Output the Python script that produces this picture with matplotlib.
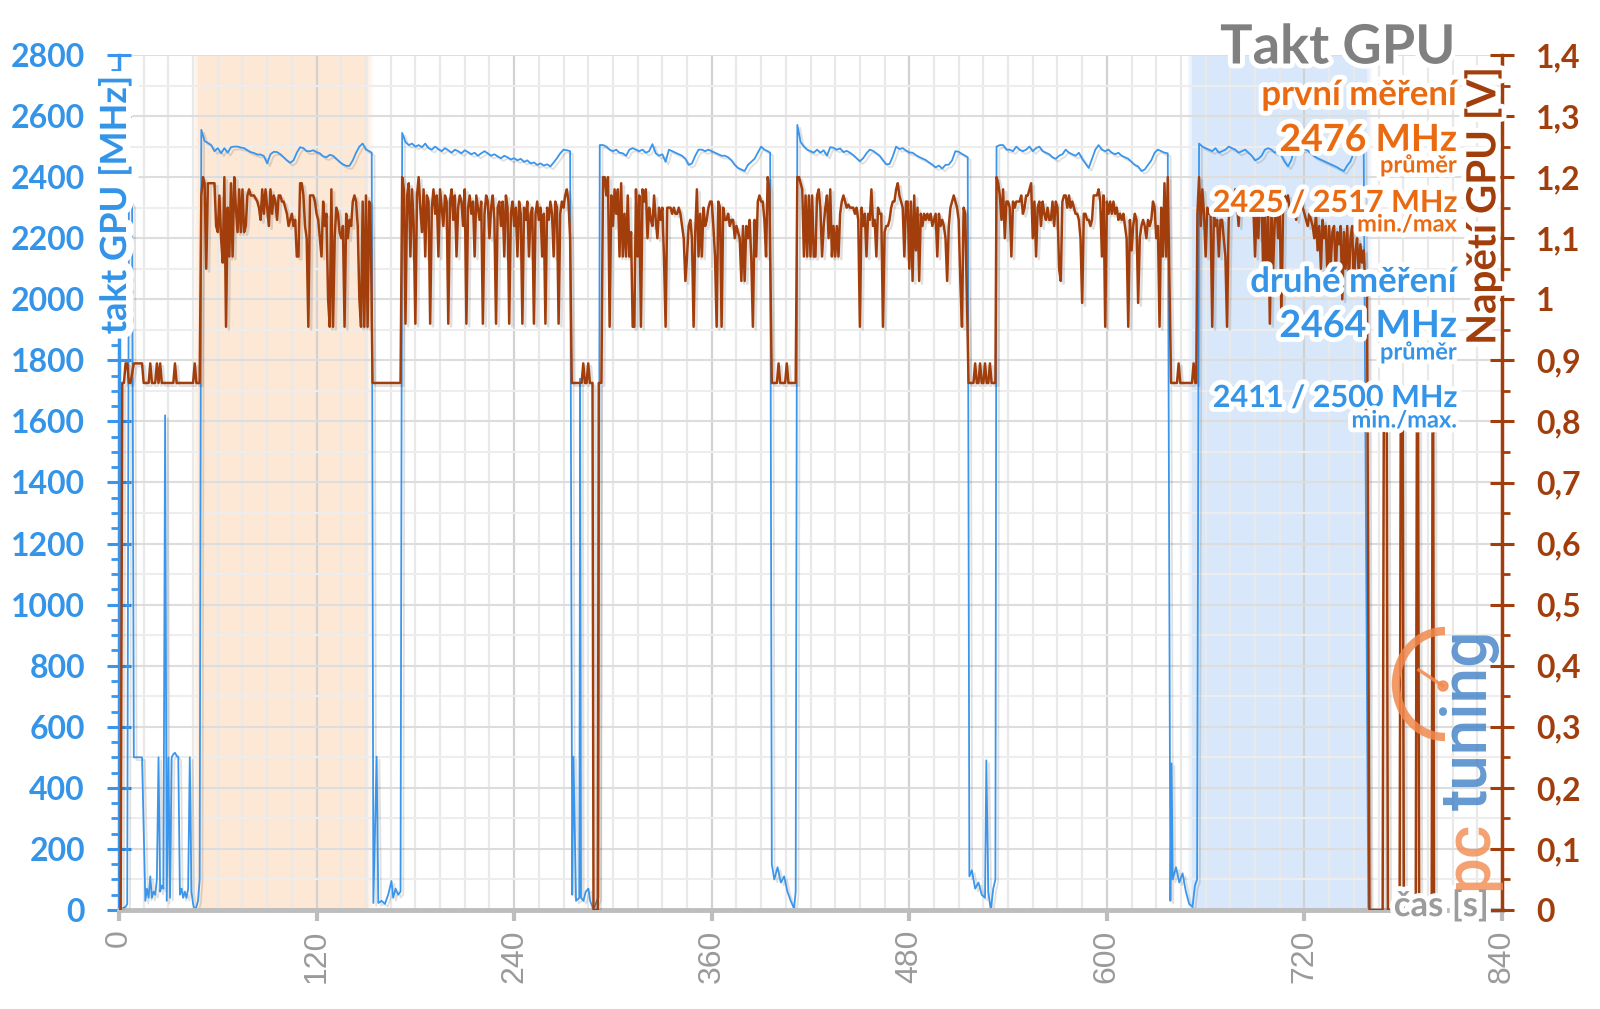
import numpy as np
import matplotlib
matplotlib.use("Agg")
import matplotlib.pyplot as plt
import matplotlib.patheffects as pe
from matplotlib.patches import Arc, Circle

plt.rcParams['font.family'] = ['Lato', 'DejaVu Sans']

BLUE = '#3A96EC'
BLUE_TXT = '#3494E8'
BROWN = '#A23E0C'
ORANGE = '#EA6A12'
GRAY = '#808080'

# ---- GPU clock [MHz] ----
clk_idle0_t = [0, 4, 5, 6, 8, 9, 14, 16, 17, 18, 19, 20, 21, 22, 23, 24, 25, 26, 27, 28,
               29, 30, 31, 32, 33, 34, 35, 36, 37, 38, 39, 40, 41, 42, 43, 44, 45, 46, 47, 48, 49]
clk_idle0 = [0, 10, 20, 2330, 2310, 500, 500, 30, 70, 40, 110, 40, 60, 50, 100, 500, 60, 80, 70, 1620,
             30, 500, 40, 500, 510, 515, 505, 500, 50, 70, 40, 60, 40, 70, 500, 60, 20, 0, 10, 30, 100]
clk_run1 = [2555, 2518, 2512, 2505, 2485, 2495, 2478, 2495, 2480, 2498,
            2500, 2500, 2497, 2495, 2488, 2482, 2479, 2474, 2474, 2469,
            2445, 2475, 2483, 2482, 2475, 2465, 2455, 2447, 2455, 2480,
            2498, 2495, 2485, 2485, 2488, 2482, 2478, 2468, 2465, 2473,
            2470, 2460, 2450, 2442, 2437, 2437, 2455, 2480, 2500, 2510,
            2490, 2485]
clk_idle2_t = [153.5, 154.5, 156.5, 157.5, 159.5, 161.5, 163.5, 165.5, 166.5, 168, 169.5, 171]
clk_idle2 = [2480, 23, 502, 23, 30, 20, 50, 95, 40, 70, 50, 60]
clk_run2 = [2545, 2515, 2505, 2510, 2500, 2505, 2498, 2510, 2495, 2490,
            2500, 2492, 2485, 2495, 2488, 2480, 2490, 2485, 2478, 2488,
            2482, 2475, 2480, 2470, 2478, 2485, 2478, 2470, 2475, 2468,
            2462, 2470, 2465, 2458, 2462, 2455, 2460, 2450, 2455, 2445,
            2448, 2440, 2445, 2438, 2442, 2435, 2448, 2462, 2478, 2490,
            2488, 2485]
clk_idle3_t = [275.3, 276, 277.6, 279.6, 280.1, 280.6, 282.1, 283.5, 285.1, 286.2, 288.2, 290.2, 291.2]
clk_idle3 = [50, 502, 30, 40, 1740, 40, 30, 60, 70, 30, 0, 30, 40]
clk_run3 = [2505, 2505, 2500, 2490, 2485, 2490, 2480, 2478, 2470, 2490,
            2495, 2490, 2485, 2490, 2480, 2485, 2508, 2478, 2470, 2475,
            2450, 2490, 2485, 2480, 2475, 2470, 2460, 2440, 2445, 2470,
            2490, 2490, 2485, 2490, 2485, 2480, 2475, 2470, 2470, 2465,
            2455, 2440, 2430, 2425, 2420, 2440, 2450, 2460, 2480, 2500,
            2490, 2485]
clk_idle4_t = [395.5, 396.5, 398, 400, 402, 404, 406, 408, 410, 411]
clk_idle4 = [2480, 150, 100, 140, 90, 110, 60, 30, 5, 60]
clk_run4 = [2571, 2515, 2500, 2490, 2485, 2480, 2490, 2480, 2488, 2470,
            2498, 2496, 2490, 2494, 2482, 2486, 2480, 2472, 2462, 2452,
            2462, 2478, 2490, 2486, 2478, 2470, 2455, 2442, 2443, 2468,
            2500, 2492, 2495, 2487, 2481, 2480, 2472, 2466, 2461, 2456,
            2448, 2441, 2432, 2438, 2428, 2440, 2441, 2455, 2485, 2483,
            2476, 2470]
clk_idle5_t = [515.5, 516.5, 518, 520, 522, 524, 526, 526.8, 528, 529.5, 531, 532.3]
clk_idle5 = [2465, 110, 130, 70, 90, 50, 40, 490, 60, 0, 70, 100]
clk_run5 = [2500, 2505, 2505, 2490, 2490, 2485, 2500, 2490, 2485, 2490,
            2500, 2485, 2495, 2500, 2485, 2480, 2475, 2465, 2460, 2470,
            2475, 2490, 2480, 2475, 2470, 2480, 2460, 2445, 2430, 2460,
            2490, 2505, 2490, 2485, 2490, 2480, 2475, 2480, 2470, 2465,
            2460, 2450, 2440, 2435, 2420, 2425, 2440, 2455, 2480, 2490,
            2485, 2480]
clk_idle6_t = [637, 638.6, 639.3, 640, 642, 644, 646, 648, 650, 652, 653.5, 654.8]
clk_idle6 = [2478, 30, 480, 100, 140, 90, 120, 60, 20, 10, 80, 100]
clk_run6 = [2510, 2500, 2495, 2490, 2485, 2495, 2480, 2485, 2490, 2500,
            2495, 2490, 2480, 2485, 2490, 2480, 2470, 2455, 2460, 2470,
            2490, 2495, 2490, 2480, 2485, 2470, 2450, 2435, 2455, 2495,
            2490, 2488, 2492, 2487, 2478, 2468, 2462, 2457, 2452, 2447,
            2442, 2437, 2432, 2425, 2420, 2438, 2452, 2480, 2500, 2495]
clk_tail_t = [756, 758.8, 800]
clk_tail = [2490, 0, 0]

# ---- GPU voltage [V] ----
v_idle0_t = [0, 1, 2, 3, 4, 5, 6, 7, 9, 14, 15, 18, 19, 20, 22, 23, 24, 25, 26, 33, 34, 35, 45, 46, 47, 49]
v_idle0 = [0, 0, 0.863, 0.863, 0.895, 0.895, 0.863, 0.863, 0.895, 0.895,
           0.863, 0.863, 0.895, 0.863, 0.863, 0.895, 0.863, 0.895, 0.863, 0.863,
           0.895, 0.863, 0.863, 0.895, 0.863, 0.863]
v_run1 = [1.17, 1.20, 1.19, 1.05, 1.19, 1.19, 1.19, 1.19, 1.19, 1.12,
          1.11, 1.17, 1.10, 1.06, 1.20, 0.955, 1.15, 1.07, 1.19, 1.07,
          1.20, 1.15, 1.11, 1.18, 1.11, 1.18, 1.11, 1.12, 1.17, 1.18,
          1.17, 1.17, 1.17, 1.165, 1.16, 1.15, 1.13, 1.18, 1.14, 1.18,
          1.15, 1.12, 1.18, 1.14, 1.17, 1.16, 1.13, 1.17, 1.17, 1.16,
          1.16, 1.15, 1.14, 1.12, 1.13, 1.14, 1.12, 1.13, 1.07, 1.07,
          1.19, 1.19, 1.17, 1.12, 1.10, 0.955, 1.17, 1.17, 1.17, 1.16,
          1.14, 1.13, 1.10, 1.07, 1.16, 1.12, 1.14, 1.00, 0.955, 1.18,
          0.955, 1.10, 1.15, 1.14, 1.11, 1.10, 1.12, 0.955, 1.14, 1.10,
          1.13, 1.12, 1.16, 1.17, 1.16, 1.12, 1.00, 0.955, 1.16, 0.955,
          1.17, 0.955, 1.16, 1.10]
v_idle2_t = [154, 171]
v_idle2 = [0.863, 0.863]
v_run2 = [1.20, 1.18, 0.96, 1.17, 1.19, 1.07, 1.18, 1.12, 0.96, 1.17,
          1.20, 1.15, 1.11, 1.18, 1.07, 1.17, 1.16, 0.96, 1.15, 1.18,
          1.14, 1.17, 1.07, 1.18, 1.15, 1.12, 1.17, 1.16, 0.96, 1.16,
          1.18, 1.13, 1.17, 1.07, 1.15, 1.17, 1.16, 1.12, 1.18, 0.96,
          1.15, 1.17, 1.14, 1.16, 1.07, 1.17, 1.15, 1.13, 1.16, 0.96,
          1.14, 1.17, 1.16, 1.10, 1.15, 1.17, 1.13, 0.96, 1.15, 1.16,
          1.12, 1.16, 1.07, 1.17, 1.15, 0.96, 1.14, 1.16, 1.12, 1.15,
          1.07, 1.16, 1.14, 0.96, 1.15, 1.13, 1.16, 1.07, 1.14, 1.15,
          0.96, 1.14, 1.16, 1.13, 1.15, 1.07, 1.14, 0.96, 1.15, 1.13,
          1.16, 1.14, 1.07, 1.16, 1.15, 0.96, 1.14, 1.16, 1.15, 1.17,
          1.18, 1.16, 1.10]
v_idle3_t = [275, 281, 282, 283, 284, 285, 286, 287.6, 288.2, 290.8, 291.4, 293]
v_idle3 = [0.863, 0.863, 0.895, 0.863, 0.863, 0.895, 0.863, 0.863, 0, 0, 0.863, 0.863]
v_run3 = [1.20, 1.20, 1.17, 1.20, 0.955, 1.17, 1.12, 1.18, 1.14, 1.18,
          1.07, 1.19, 1.07, 1.14, 1.07, 1.17, 1.07, 1.11, 0.955, 0.955,
          1.18, 1.07, 1.17, 0.955, 1.18, 1.16, 1.18, 1.10, 1.15, 1.13,
          1.12, 1.17, 1.13, 1.10, 1.15, 1.13, 1.15, 1.07, 0.955, 1.15,
          1.15, 1.15, 1.14, 1.15, 1.14, 1.14, 1.15, 1.14, 1.12, 1.10,
          1.03, 1.07, 1.12, 1.13, 1.10, 0.955, 1.11, 1.18, 1.07, 1.14,
          1.07, 1.15, 1.12, 1.13, 1.15, 1.16, 1.16, 1.12, 1.07, 0.955,
          1.16, 1.15, 0.955, 1.15, 1.13, 1.13, 1.14, 1.12, 1.13, 1.13,
          1.10, 1.12, 1.11, 1.10, 1.03, 1.12, 1.03, 1.12, 1.10, 1.13,
          1.07, 0.955, 1.13, 1.07, 1.16, 1.17, 1.16, 1.16, 1.13, 1.07,
          1.20, 1.18]
v_idle4_t = [396.5, 399.6, 400.6, 401.6, 404.6, 405.6, 406.6, 411]
v_idle4 = [0.863, 0.863, 0.895, 0.863, 0.863, 0.895, 0.863, 0.863]
v_run4 = [1.20, 1.20, 1.19, 1.18, 1.07, 1.17, 1.07, 1.17, 1.07, 1.17,
          1.07, 1.07, 1.17, 1.18, 1.15, 1.07, 1.12, 1.15, 1.17, 1.10,
          1.18, 1.07, 1.12, 1.07, 1.12, 1.07, 1.14, 1.16, 1.17, 1.16,
          1.15, 1.155, 1.15, 1.15, 1.15, 1.14, 1.15, 1.13, 0.955, 1.15,
          1.12, 1.14, 1.07, 1.14, 1.13, 1.18, 1.12, 1.13, 1.07, 1.15,
          1.14, 1.14, 0.955, 1.11, 1.12, 1.12, 1.13, 1.15, 1.16, 1.16,
          1.18, 1.19, 1.17, 1.16, 1.15, 1.07, 1.16, 1.16, 1.05, 1.16,
          1.03, 1.17, 1.08, 1.15, 1.03, 1.14, 1.12, 1.14, 1.13, 1.14,
          1.13, 1.14, 1.12, 1.13, 1.14, 1.07, 1.14, 1.12, 1.13, 1.12,
          1.10, 1.03, 1.12, 1.15, 1.16, 1.17, 1.16, 1.15, 1.13, 1.03,
          0.955, 1.15, 1.14]
v_idle5_t = [516, 519, 520, 521, 522, 523, 524, 525, 526, 527, 528, 529, 530, 532.3]
v_idle5 = [0.863, 0.863, 0.895, 0.863, 0.863, 0.895, 0.863, 0.863, 0.895, 0.863, 0.863, 0.895, 0.863, 0.863]
v_run5 = [1.20, 1.19, 1.17, 1.13, 1.18, 1.10, 1.16, 1.16, 1.15, 1.07,
          1.16, 1.15, 1.16, 1.16, 1.16, 1.17, 1.14, 1.15, 1.17, 1.17,
          1.18, 1.19, 1.10, 1.16, 1.07, 1.15, 1.16, 1.12, 1.16, 1.14,
          1.13, 1.15, 1.13, 1.13, 1.16, 1.12, 1.16, 1.15, 1.05, 1.03,
          1.16, 1.17, 1.17, 1.15, 1.17, 1.15, 1.16, 1.15, 1.14, 1.14,
          1.13, 1.10, 0.994, 1.14, 1.14, 1.13, 1.13, 1.12, 1.13, 1.17,
          1.17, 1.17, 1.18, 1.16, 1.07, 1.17, 0.955, 1.16, 1.14, 1.16,
          1.14, 1.16, 1.14, 1.15, 1.13, 1.14, 1.13, 1.14, 1.12, 1.10,
          0.955, 1.13, 1.08, 1.12, 1.14, 1.13, 0.994, 1.10, 1.12, 1.13,
          1.12, 1.10, 1.13, 1.12, 1.13, 1.16, 1.15, 1.10, 1.12, 0.955,
          1.15, 1.07, 1.19, 1.07, 1.20]
v_idle6_t = [639, 642.6, 643.6, 644.6, 651.7, 652.7, 653.7, 654.3]
v_idle6 = [0.863, 0.863, 0.895, 0.863, 0.863, 0.895, 0.863, 0.863]
v_run6 = [1.14, 1.20, 1.12, 1.18, 1.14, 1.07, 1.15, 1.14, 1.14, 0.955,
          1.14, 1.12, 1.13, 1.07, 1.13, 1.13, 1.10, 1.07, 0.955, 1.13,
          1.16, 1.17, 1.15, 1.18, 1.16, 1.12, 1.17, 1.16, 1.18, 1.15,
          1.17, 1.16, 1.14, 1.18, 1.15, 1.07, 1.15, 1.10, 1.17, 1.16,
          1.04, 1.16, 1.02, 1.14, 0.96, 1.15, 1.05, 1.13, 1.16, 1.10,
          1.15, 0.97, 1.14, 1.17, 1.16, 1.17, 1.15, 1.14, 1.16, 1.15,
          1.13, 1.16, 1.17, 1.16, 1.15, 1.14, 1.13, 1.12, 1.14, 1.13,
          1.12, 1.10, 1.14, 1.08, 1.12, 1.05, 1.13, 1.10, 1.12, 1.03,
          1.12, 1.06, 1.11, 1.12, 1.04, 1.11, 1.09, 1.12, 1.00, 1.11,
          1.05, 1.12, 1.03, 1.10, 1.12, 1.02, 1.08, 1.10, 1.04, 1.09,
          1.06, 1.08, 1.02]
v_tail_t = [758, 759.5, 767.5, 768.2, 770.0, 770.7, 777.8, 778.5, 779.7, 780.4,
            787.6, 788.3, 789.0, 789.7, 797.3, 797.8, 798.2, 798.7, 800]
v_tail = [1.02, 0, 0, 0.80, 0.80, 0, 0, 0.81, 0.81, 0, 0, 0.80, 0.80, 0, 0, 0.79, 0.79, 0, 0]

time_ticks = [0, 120, 240, 360, 480, 600, 720, 840]
volt_ticklabels = ['0', '0,1', '0,2', '0,3', '0,4', '0,5', '0,6', '0,7',
                   '0,8', '0,9', '1', '1,1', '1,2', '1,3', '1,4']

span_first = (48, 151)
span_second = (652, 758)


def run(start, step, vals):
    return list(start + step * np.arange(len(vals))), list(vals)


def join(parts):
    t = np.concatenate([np.asarray(p[0], float) for p in parts])
    v = np.concatenate([np.asarray(p[1], float) for p in parts])
    return t, v


clock_t, clock_v = join([
    (clk_idle0_t, clk_idle0), run(50, 2, clk_run1), (clk_idle2_t, clk_idle2),
    run(172, 2, clk_run2), (clk_idle3_t, clk_idle3), run(292, 2, clk_run3),
    (clk_idle4_t, clk_idle4), run(412, 2, clk_run4), (clk_idle5_t, clk_idle5),
    run(533, 2, clk_run5), (clk_idle6_t, clk_idle6), run(656, 2, clk_run6),
    (clk_tail_t, clk_tail)])

volt_t, volt_v = join([
    (v_idle0_t, v_idle0), run(50, 1, v_run1), (v_idle2_t, v_idle2),
    run(172, 1, v_run2), (v_idle3_t, v_idle3), run(294, 1, v_run3),
    (v_idle4_t, v_idle4), run(412, 1, v_run4), (v_idle5_t, v_idle5),
    run(533, 1, v_run5), (v_idle6_t, v_idle6), run(655, 1, v_run6),
    (v_tail_t, v_tail)])

fig = plt.figure(figsize=(16, 10.09), dpi=100)
fig.patch.set_facecolor('white')
ax = fig.add_axes([119 / 1600, 1 - 910 / 1009, (1502 - 119) / 1600, (910 - 55) / 1009])
ax2 = ax.twinx()

# soft shaded ranges
def soft_span(a, b, color):
    ax.axvspan(a, b, color=color, lw=0, zorder=0.6)
    for d in (1, 2, 3):
        ax.axvspan(a - d, b + d, color=color, alpha=0.25, lw=0, zorder=0.5)

soft_span(*span_first, '#FDE8D5')
soft_span(*span_second, '#D8E8FA')

# grid
for x in np.arange(0, 841, 15):
    ax.axvline(x, color='#D2D2D2' if x % 120 == 0 else '#E9E9E9', lw=1.6, zorder=1.5)
for y in np.arange(0, 2801, 100):
    ax.axhline(y, color='#DDDDDD' if y % 200 == 0 else '#EDEDED', lw=1.5, zorder=1.5)

shadow = [pe.SimpleLineShadow(offset=(2, -2), alpha=0.12), pe.Normal()]
ax.plot(clock_t, clock_v, color=BLUE, lw=1.3, zorder=3, path_effects=shadow)
ax2.plot(volt_t, volt_v, color=BROWN, lw=1.8, zorder=3, path_effects=shadow)

ax.set_xlim(0, 840)
ax.set_ylim(0, 2800)
ax2.set_ylim(0, 1.4)

ax.set_xticks(time_ticks)
ax.set_xticklabels([str(t) for t in time_ticks], rotation=90, fontsize=23,
                   family=['Liberation Sans', 'DejaVu Sans'], color='#9A9A9A')
ax.set_yticks(np.arange(0, 2801, 200))
ax.set_yticks(np.arange(0, 2801, 50), minor=True)
ax2.set_yticks(np.arange(0, 1.41, 0.1))
ax2.set_yticklabels(volt_ticklabels)
ax2.set_yticks(np.arange(0, 1.41, 0.05), minor=True)

ax.tick_params(axis='y', which='major', direction='inout', length=17, width=2.2,
               color=BLUE, labelcolor=BLUE_TXT, labelsize=23, pad=16)
ax.tick_params(axis='y', which='minor', direction='out', length=6, width=2, color=BLUE)
ax.tick_params(axis='x', direction='out', length=8, width=3, color='#BDBDBD', pad=6)
ax2.tick_params(axis='y', which='major', direction='inout', length=17, width=2.2,
                color=BROWN, labelcolor=BROWN, labelsize=23, pad=16)
ax2.tick_params(axis='y', which='minor', direction='out', length=6, width=2, color=BROWN)

for lab in ax.get_yticklabels() + ax2.get_yticklabels():
    lab.set_fontweight('bold')

for s in ('top', 'right'):
    ax.spines[s].set_visible(False)
for s in ('top', 'left', 'bottom'):
    ax2.spines[s].set_visible(False)
ax.spines['left'].set_color(BLUE)
ax.spines['left'].set_linewidth(2.5)
ax.spines['bottom'].set_color('#BDBDBD')
ax.spines['bottom'].set_linewidth(3.5)
ax.spines['bottom'].set_zorder(4)
ax2.spines['right'].set_color(BROWN)
ax2.spines['right'].set_linewidth(2.5)

# overlay in pixel coordinates for texts and logo
ov = fig.add_axes([0, 0, 1, 1])
ov.set_xlim(0, 1600)
ov.set_ylim(1009, 0)
ov.axis('off')
ov.set_zorder(5)
ov.patch.set_visible(False)

glow = [pe.withStroke(linewidth=7, foreground='white')]

ov.text(1489, 906, 'čas [s]', ha='right', va='center', fontsize=25, fontweight='bold',
        color='#9C9C9C', path_effects=glow)

# logo
LOGO_OR = '#F28A4E'
LOGO_BL = '#3F80C6'
ov.add_patch(Arc((1445, 684), 98, 106, theta1=90, theta2=270, lw=6, color=LOGO_OR, alpha=0.85))
ov.plot([1419, 1443], [670, 686], color=LOGO_OR, lw=2.5, alpha=0.85)
ov.add_patch(Circle((1443, 686), 5, color=LOGO_OR, alpha=0.85))
ov.text(1487, 890, 'pc', rotation=90, rotation_mode='anchor', ha='left', va='baseline',
        fontsize=46, fontweight='medium', color=LOGO_OR, alpha=0.8, family=['Roboto', 'DejaVu Sans'])
ov.text(1487, 810, 'tuning', rotation=90, rotation_mode='anchor', ha='left', va='baseline',
        fontsize=46, fontweight='medium', color=LOGO_BL, alpha=0.8, family=['Roboto', 'DejaVu Sans'])

ov.text(115, 205, 'takt GPU [MHz]', rotation=90, ha='center', va='center', fontsize=26,
        fontweight='bold', color=BLUE_TXT,
        path_effects=[pe.withStroke(linewidth=11, foreground='white')])
ov.text(1483, 206, 'Napětí GPU [V]', rotation=90, ha='center', va='center', fontsize=29,
        fontweight='bold', color=BROWN, path_effects=glow)

RX = 1457
ov.text(RX - 2, 48, 'Takt GPU', ha='right', va='center', fontsize=39, fontweight='bold',
        color=GRAY, path_effects=glow)
ann = [
    ('první měření', 95, 25, ORANGE), ('2476 MHz', 140, 27, ORANGE),
    ('průměr', 165, 17, ORANGE), ('2425 / 2517 MHz', 203, 22, ORANGE),
    ('min./max', 224, 17, ORANGE),
    ('druhé měření', 282, 25, BLUE_TXT), ('2464 MHz', 326, 27, BLUE_TXT),
    ('průměr', 352, 17, BLUE_TXT), ('2411 / 2500 MHz', 398, 22, BLUE_TXT),
    ('min./max.', 420, 17, BLUE_TXT),
]
for txt, y, size, col in ann:
    ov.text(RX, y, txt, ha='right', va='center', fontsize=size, fontweight='bold',
            color=col, path_effects=glow)

fig.savefig('out.png', dpi=100, facecolor='white')
